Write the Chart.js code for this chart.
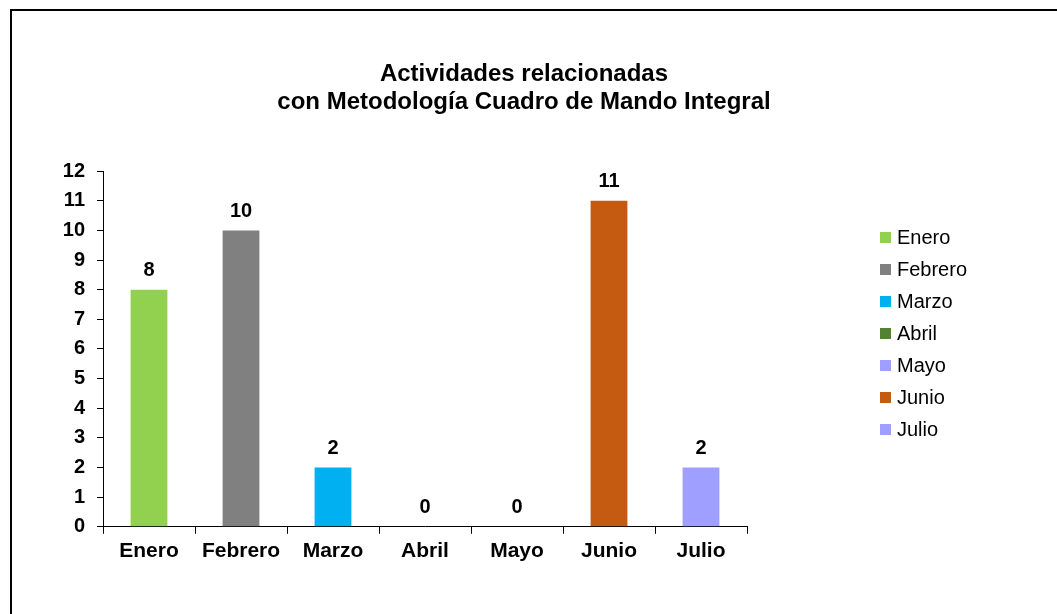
<!DOCTYPE html>
<html>
<head>
<meta charset="utf-8">
<script src="https://cdn.jsdelivr.net/npm/chart.js@4/dist/chart.umd.min.js"></script>
<style>
    html, body { margin: 0; padding: 0; background: #fff; overflow: hidden; }
    #wrap { position: relative; width: 1057px; height: 614px; }
    #frame {
        position: absolute; left: 10px; top: 9px;
        width: 1100px; height: 700px;
        border: 2px solid #000; box-sizing: border-box;
    }
    #chart { position: absolute; left: 0; top: 0; }
    .legend-item {
        position: absolute; left: 880px; height: 24px;
        font: 20px "Liberation Sans", Arial, sans-serif; color: #000;
        display: flex; align-items: center;
    }
    .legend-item span.box { width: 11px; height: 11px; margin-right: 6px; display: inline-block; }
</style>
</head>
<body>
<div id="wrap">
    <div id="frame"></div>
    <canvas id="chart" width="1057" height="614"></canvas>
    <div id="legend"></div>
</div>
<script>
// Data
const months = ['Enero', 'Febrero', 'Marzo', 'Abril', 'Mayo', 'Junio', 'Julio'];
const activities = [8, 10, 2, 0, 0, 11, 2];
const monthColors = ['#92D050', '#808080', '#00B0F0', '#548235', '#9F9FFF', '#C55A11', '#9F9FFF'];
const yTicks = [0, 1, 2, 3, 4, 5, 6, 7, 8, 9, 10, 11, 12];
const titleLines = ['Actividades relacionadas', 'con Metodología Cuadro de Mando Integral'];

const FONT = '"Liberation Sans", Arial, sans-serif';

// value labels above each bar
const valueLabels = {
    id: 'valueLabels',
    afterDatasetsDraw(chart) {
        const ctx = chart.ctx;
        const meta = chart.getDatasetMeta(0);
        ctx.save();
        ctx.font = 'bold 20px ' + FONT;
        ctx.fillStyle = '#000';
        ctx.textAlign = 'center';
        ctx.textBaseline = 'middle';
        meta.data.forEach((bar, i) => {
            ctx.fillText(String(activities[i]), bar.x, bar.y - 19);
        });
        ctx.restore();
    }
};

function buildLegend() {
    const legend = document.getElementById('legend');
    months.forEach((m, i) => {
        const item = document.createElement('div');
        item.className = 'legend-item';
        item.style.top = (237 - 12 + i * 32.1) + 'px';
        item.innerHTML = `<span class="box" style="background:${monthColors[i]}"></span>${m}`;
        legend.appendChild(item);
    });
}

const ctx = document.getElementById('chart').getContext('2d');
new Chart(ctx, {
    type: 'bar',
    data: {
        labels: months,
        datasets: [{
            label: 'Actividades',
            data: activities,
            backgroundColor: monthColors,
            borderWidth: 0,
            categoryPercentage: 1,
            barPercentage: 0.4
        }]
    },
    options: {
        responsive: false,
        animation: false,
        layout: {
            padding: { top: 0, left: 0, right: 9, bottom: 45 }
        },
        plugins: {
            legend: { display: false },
            tooltip: { enabled: false },
            title: {
                display: true,
                text: titleLines,
                color: '#000',
                font: { family: FONT, size: 24, weight: 'bold', lineHeight: 1.17 },
                padding: { top: 60, bottom: 55 }
            }
        },
        scales: {
            x: {
                grid: {
                    offset: true,
                    drawOnChartArea: false,
                    tickLength: 7,
                    color: '#000'
                },
                border: { display: true, color: '#000', width: 1 },
                ticks: {
                    color: '#000',
                    padding: 5,
                    font: { family: FONT, size: 21, weight: 'bold' }
                }
            },
            y: {
                min: 0,
                max: 12,
                afterFit(scale) { scale.width = 103; },
                afterBuildTicks(scale) { scale.ticks = yTicks.map(v => ({ value: v })); },
                grid: {
                    drawOnChartArea: false,
                    tickLength: 6,
                    color: '#000'
                },
                border: { display: true, color: '#000', width: 1 },
                ticks: {
                    color: '#000',
                    padding: 12,
                    font: { family: FONT, size: 20, weight: 'bold' }
                }
            },
            // empty right-hand axis that reserves the space where the legend sits
            legendSpace: {
                type: 'linear',
                position: 'right',
                afterFit(scale) { scale.width = 301; },
                grid: { display: false },
                border: { display: false },
                ticks: { display: false }
            }
        }
    },
    plugins: [valueLabels]
});

buildLegend();
</script>
</body>
</html>
